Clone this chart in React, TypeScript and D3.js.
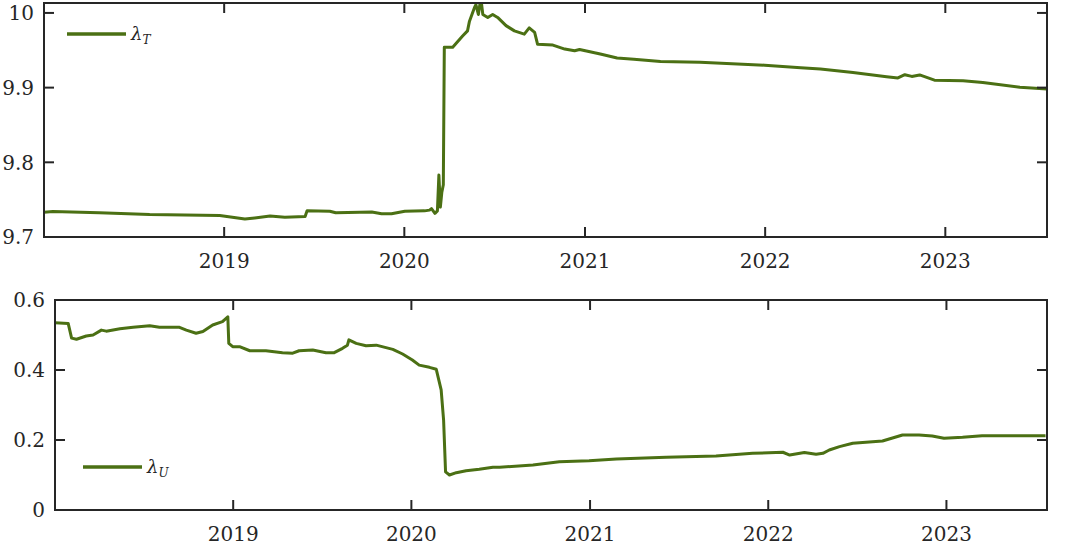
import React, { useRef, useEffect } from "react";
import * as d3 from "d3";

// lambda_T (top panel)
const tDates = [
  "2018-01-01", "2018-01-19", "2018-04-23", "2018-08-03", "2018-12-23", "2019-02-12",
  "2019-03-04", "2019-04-04", "2019-05-04", "2019-06-14", "2019-06-18", "2019-08-03",
  "2019-08-15", "2019-10-03", "2019-10-27", "2019-11-16", "2019-12-06", "2020-01-02",
  "2020-02-11", "2020-02-21", "2020-02-25", "2020-03-03", "2020-03-08", "2020-03-11",
  "2020-03-14", "2020-03-17", "2020-03-20", "2020-03-22", "2020-04-08", "2020-04-28",
  "2020-05-08", "2020-05-12", "2020-05-22", "2020-05-25", "2020-05-30", "2020-06-04",
  "2020-06-08", "2020-06-18", "2020-06-28", "2020-07-08", "2020-07-25", "2020-08-11",
  "2020-08-31", "2020-09-10", "2020-09-21", "2020-09-27", "2020-10-28", "2020-11-21",
  "2020-12-11", "2020-12-21", "2021-02-01", "2021-03-07", "2021-04-10", "2021-06-03",
  "2021-08-22", "2021-12-31", "2022-03-14", "2022-04-23", "2022-06-28", "2022-09-04",
  "2022-09-27", "2022-10-11", "2022-10-25", "2022-11-10", "2022-12-10", "2023-02-06",
  "2023-03-18", "2023-06-01", "2023-07-26",
];
const tValues = [
  9.733, 9.734, 9.7325, 9.730, 9.7288, 9.724,
  9.7255, 9.728, 9.7265, 9.7275, 9.735, 9.7345,
  9.7325, 9.733, 9.7335, 9.731, 9.731, 9.7345,
  9.735, 9.736, 9.738, 9.7316, 9.735, 9.783,
  9.740, 9.760, 9.770, 9.954, 9.954, 9.969,
  9.976, 9.989, 10.007, 10.011, 9.998, 10.02,
  9.998, 9.994, 9.998, 9.994, 9.983, 9.976,
  9.9716, 9.980, 9.974, 9.958, 9.957, 9.9516,
  9.9493, 9.951, 9.945, 9.9396, 9.938, 9.935,
  9.934, 9.930, 9.9267, 9.925, 9.9204, 9.9147,
  9.913, 9.9173, 9.915, 9.917, 9.910, 9.9093,
  9.907, 9.9004, 9.898,
];

// lambda_U (bottom panel)
const uDates = [
  "2018-01-01", "2018-01-28", "2018-02-04", "2018-02-14", "2018-03-06", "2018-03-20",
  "2018-04-06", "2018-04-16", "2018-05-14", "2018-06-10", "2018-07-14", "2018-08-03",
  "2018-09-13", "2018-09-27", "2018-10-17", "2018-10-31", "2018-11-20", "2018-12-10",
  "2018-12-21", "2018-12-23", "2018-12-31", "2019-01-14", "2019-02-04", "2019-03-09",
  "2019-04-12", "2019-05-03", "2019-05-16", "2019-06-13", "2019-07-10", "2019-07-27",
  "2019-08-13", "2019-08-23", "2019-08-26", "2019-09-10", "2019-09-30", "2019-10-21",
  "2019-11-24", "2019-12-14", "2020-01-03", "2020-01-17", "2020-02-07", "2020-02-21",
  "2020-03-02", "2020-03-07", "2020-03-11", "2020-03-19", "2020-04-02", "2020-04-22",
  "2020-05-19", "2020-06-16", "2020-06-30", "2020-09-06", "2020-10-30", "2020-12-30",
  "2021-02-24", "2021-06-06", "2021-09-16", "2021-11-30", "2022-01-31", "2022-02-14",
  "2022-03-16", "2022-04-09", "2022-04-23", "2022-05-06", "2022-05-27", "2022-06-23",
  "2022-08-23", "2022-10-03", "2022-11-06", "2022-12-03", "2022-12-27", "2023-02-03",
  "2023-03-15", "2023-05-29", "2023-07-23",
];
const uValues = [
  0.535, 0.533, 0.491, 0.488, 0.497, 0.500,
  0.514, 0.511, 0.518, 0.522, 0.5266, 0.522,
  0.522, 0.514, 0.505, 0.510, 0.5286, 0.538,
  0.552, 0.476, 0.4667, 0.4667, 0.455, 0.455,
  0.4495, 0.448, 0.455, 0.457, 0.4495, 0.4495,
  0.462, 0.471, 0.486, 0.476, 0.4695, 0.471,
  0.459, 0.4457, 0.4286, 0.414, 0.4076, 0.402,
  0.343, 0.257, 0.109, 0.100, 0.1066, 0.1124,
  0.1163, 0.122, 0.122, 0.1286, 0.138, 0.141,
  0.1457, 0.1505, 0.154, 0.162, 0.165, 0.157,
  0.164, 0.159, 0.162, 0.1714, 0.181, 0.1905,
  0.197, 0.2143, 0.2143, 0.2114, 0.205, 0.2076,
  0.2124, 0.2124, 0.2124,
];

const tTicks = [9.7, 9.8, 9.9, 10];
const uTicks = [0, 0.2, 0.4, 0.6];
const yearTicks = ["2019", "2020", "2021", "2022", "2023"];
const xStart = "2018-01-01";
const xEnd = "2023-07-26";

const lineColor = "#4b7014";
const axisColor = "#262626";
const font = "'DejaVu Serif', serif";

const drawPanel = (svg, opts) => {
  const { left, right, top, bottom, yDomain, yTicks, yFmt, dates, values, label, sub, legX, legY, id } = opts;
  const parse = d3.utcParse("%Y-%m-%d");
  const x = d3.scaleUtc().domain([parse(xStart), parse(xEnd)]).range([left, right]);
  const y = d3.scaleLinear().domain(yDomain).range([bottom, top]);
  const data = dates.map((d, i) => ({ date: parse(d), value: values[i] }));

  const g = svg.append("g");
  g.append("clipPath").attr("id", id).append("rect")
    .attr("x", left).attr("y", top).attr("width", right - left).attr("height", bottom - top);

  const line = d3.line().x((d) => x(d.date)).y((d) => y(d.value));
  g.append("path").datum(data)
    .attr("d", line)
    .attr("fill", "none")
    .attr("stroke", lineColor)
    .attr("stroke-width", 3)
    .attr("stroke-linejoin", "round")
    .attr("clip-path", `url(#${id})`);

  // box
  g.append("rect")
    .attr("x", left).attr("y", top).attr("width", right - left).attr("height", bottom - top)
    .attr("fill", "none").attr("stroke", axisColor).attr("stroke-width", 2);

  const tl = 10;
  const xt = yearTicks.map((s) => parse(s + "-01-01"));
  xt.forEach((d) => {
    const px = x(d);
    g.append("line").attr("x1", px).attr("x2", px).attr("y1", bottom).attr("y2", bottom - tl)
      .attr("stroke", axisColor).attr("stroke-width", 2);
    g.append("line").attr("x1", px).attr("x2", px).attr("y1", top).attr("y2", top + tl)
      .attr("stroke", axisColor).attr("stroke-width", 2);
    g.append("text").attr("x", px).attr("y", bottom + 31)
      .attr("text-anchor", "middle").attr("font-family", font).attr("font-size", 20)
      .attr("fill", axisColor).text(d3.utcFormat("%Y")(d));
  });
  yTicks.forEach((v) => {
    const py = y(v);
    g.append("line").attr("x1", left).attr("x2", left + tl).attr("y1", py).attr("y2", py)
      .attr("stroke", axisColor).attr("stroke-width", 2);
    g.append("line").attr("x1", right).attr("x2", right - tl).attr("y1", py).attr("y2", py)
      .attr("stroke", axisColor).attr("stroke-width", 2);
    g.append("text").attr("x", left - 10).attr("y", py).attr("dy", "0.36em")
      .attr("text-anchor", "end").attr("font-family", font).attr("font-size", 20)
      .attr("fill", axisColor).text(yFmt(v));
  });

  // legend
  g.append("line").attr("x1", legX).attr("x2", legX + 59).attr("y1", legY).attr("y2", legY)
    .attr("stroke", lineColor).attr("stroke-width", 3.5);
  const t = g.append("text").attr("x", legX + 64).attr("y", legY + 6)
    .attr("font-family", "'DejaVu Serif', serif").attr("font-style", "italic")
    .attr("font-size", 18).attr("fill", axisColor);
  t.append("tspan").text(label);
  t.append("tspan").attr("font-size", 12).attr("dy", 4).text(sub);
};

const App = () => {
  const svgRef = useRef(null);

  useEffect(() => {
    const svg = d3.select(svgRef.current);
    svg.selectAll("*").remove();

    drawPanel(svg, {
      id: "clipT", left: 44, right: 1047, top: 3, bottom: 237,
      yDomain: [9.7, 10.0133], yTicks: tTicks, yFmt: (v) => (v === 10 ? "10" : d3.format(".1f")(v)),
      dates: tDates, values: tValues, label: "λ", sub: "T", legX: 67, legY: 34,
    });
    drawPanel(svg, {
      id: "clipU", left: 55, right: 1047, top: 300, bottom: 510,
      yDomain: [0, 0.6], yTicks: uTicks, yFmt: (v) => (v === 0 ? "0" : d3.format(".1f")(v)),
      dates: uDates, values: uValues, label: "λ", sub: "U", legX: 83, legY: 467,
    });
  }, []);

  return (
    <div style={{ position: "absolute", left: 0, top: 0 }}>
      <svg ref={svgRef} width={1080} height={550} style={{ display: "block", background: "#fff" }}></svg>
    </div>
  );
};

export default App;
